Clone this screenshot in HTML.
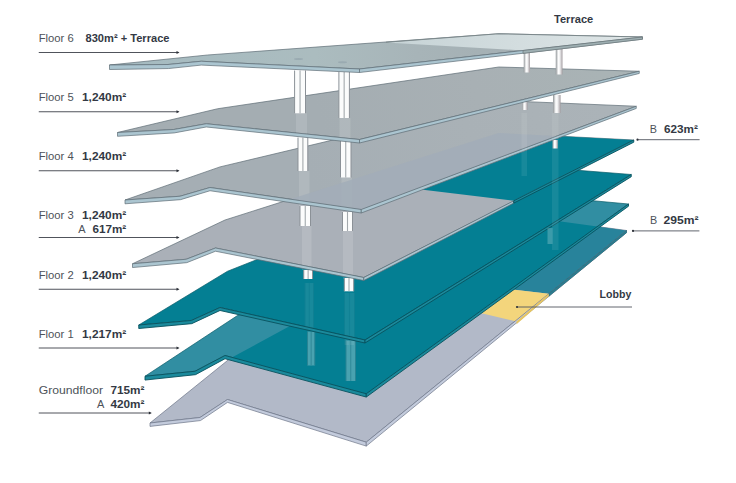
<!DOCTYPE html>
<html lang="en"><head><meta charset="utf-8"><title>Floor areas</title>
<style>html,body{margin:0;padding:0;background:#fff}body{width:736px;height:483px;overflow:hidden}svg{display:block}</style></head>
<body>
<svg width="736" height="483" viewBox="0 0 736 483">
<defs>
<linearGradient id="gTer" x1="0" y1="0" x2="1" y2="0"><stop offset="0" stop-color="#c6d3d6"/><stop offset="1" stop-color="#dfe6e7"/></linearGradient>
<linearGradient id="gPil" x1="0" y1="0" x2="1" y2="0"><stop offset="0" stop-color="#f4f6f7"/><stop offset=".42" stop-color="#ffffff"/><stop offset=".5" stop-color="#b9c2c7"/><stop offset=".6" stop-color="#ffffff"/><stop offset="1" stop-color="#e6eaec"/></linearGradient>
<linearGradient id="gPil2" x1="0" y1="0" x2="1" y2="0"><stop offset="0" stop-color="#8f9497"/><stop offset=".38" stop-color="#ffffff"/><stop offset=".6" stop-color="#f1f1f2"/><stop offset="1" stop-color="#a39da1"/></linearGradient>
<linearGradient id="gF5" gradientUnits="userSpaceOnUse" x1="330" y1="150" x2="600" y2="60"><stop offset="0" stop-color="#a4adb2"/><stop offset=".55" stop-color="#a8b0b4"/><stop offset="1" stop-color="#a9b3b5"/></linearGradient>
<linearGradient id="gF4" gradientUnits="userSpaceOnUse" x1="330" y1="220" x2="600" y2="95"><stop offset="0" stop-color="#a5aeb4"/><stop offset=".55" stop-color="#a9b1b6"/><stop offset="1" stop-color="#abb3b8"/></linearGradient>
<linearGradient id="gF6" gradientUnits="userSpaceOnUse" x1="110" y1="0" x2="520" y2="0"><stop offset="0" stop-color="#a5bbc1"/><stop offset=".5" stop-color="#abbcbf"/><stop offset=".75" stop-color="#a7b4b8"/><stop offset="1" stop-color="#a4afb3"/></linearGradient>
<clipPath id="c3"><polygon points="132.50,263.75 225.00,220.00 498.50,133.00 633.75,140.00 363.75,277.50 215.50,248.00 186.25,259.25"/></clipPath>
<clipPath id="cG"><polygon points="150.00,423.00 230.00,358.50 498.00,213.00 626.50,230.50 366.25,442.20 227.50,399.50 200.00,417.50"/></clipPath>
</defs>
<rect width="736" height="483" fill="#ffffff"/>
<polygon points="150.00,423.00 230.00,358.50 498.00,213.00 626.50,230.50 366.25,442.20 227.50,399.50 200.00,417.50" fill="#b2b9c8" stroke="#6d7688" stroke-width="0.7"/>
<polygon points="386.25,275.00 498.00,213.00 626.50,230.50 548.75,293.75" fill="#28839b"/>
<polygon points="503.25,288.50 548.75,293.75 516.50,321.50 471.00,310.70" fill="#f3d57c"/>
<polygon points="150.00,423.00 200.00,417.50 227.50,399.50 366.25,442.20 366.25,446.10 227.50,402.39 200.50,420.56 150.00,426.40" fill="#c3cbdc" stroke="#6d7688" stroke-width="0.7" stroke-linejoin="round"/>
<polygon points="366.25,442.20 626.50,230.50 626.50,232.70 366.25,446.10" fill="#c3cbdc" stroke="#6d7688" stroke-width="0.7" stroke-linejoin="round"/>
<polygon points="548.75,293.75 626.50,230.50 626.50,232.70 548.75,296.30" fill="#2a7f92" stroke="#1b5f6e" stroke-width="0.5"/>
<polygon points="516.50,321.50 548.75,293.75 548.75,296.30 516.50,324.30" fill="#e6c562"/>
<polygon points="145.00,376.25 237.50,315.50 498.00,192.00 628.50,204.00 366.25,393.75 225.00,355.50 195.00,371.25" fill="#318ea2" stroke="#0a5b69" stroke-width="0.7"/>
<polygon points="145.00,376.25 237.50,315.50 498.00,192.00 628.50,204.00 366.25,393.75 225.00,355.50 195.00,371.25" fill="#047f93" clip-path="url(#cG)"/>
<g opacity="0.28"><rect x="307.5" y="331.5" width="7.300000000000011" height="34.0" fill="#fbfcfc"/><path d="M307.5 331.5V365.5M314.8 331.5V365.5" stroke="#8b9197" stroke-width="1"/><path d="M311.15 331.5V365.5" stroke="#a3a9ad" stroke-width="1.1"/></g>
<g opacity="0.28"><rect x="346" y="340.5" width="9.5" height="40.5" fill="#fbfcfc"/><path d="M346 340.5V381M355.5 340.5V381" stroke="#8b9197" stroke-width="1"/><path d="M350.75 340.5V381" stroke="#a3a9ad" stroke-width="1.1"/></g>
<polygon points="145.00,376.25 195.00,371.25 225.00,355.50 366.25,393.75 366.25,397.05 225.00,358.73 195.50,374.67 145.00,380.05" fill="#1b8a9c" stroke="#08515e" stroke-width="0.9" stroke-linejoin="round"/>
<polygon points="366.25,393.75 628.50,204.00 628.50,206.20 366.25,397.05" fill="#1b8a9c" stroke="#08515e" stroke-width="0.9" stroke-linejoin="round"/>
<polygon points="138.75,325.00 227.50,271.25 498.00,164.00 631.25,174.50 365.00,340.00 220.00,307.50 191.25,320.50" fill="#047f93" stroke="#0a5b69" stroke-width="0.7"/>
<g opacity="0.08"><rect x="305" y="283" width="8.5" height="47" fill="#fbfcfc"/><path d="M305 283V330M313.5 283V330" stroke="#8b9197" stroke-width="1"/><path d="M309.25 283V330" stroke="#a3a9ad" stroke-width="1.1"/></g>
<g opacity="0.08"><rect x="344.5" y="293" width="10.0" height="52" fill="#fbfcfc"/><path d="M344.5 293V345M354.5 293V345" stroke="#8b9197" stroke-width="1"/><path d="M349.5 293V345" stroke="#a3a9ad" stroke-width="1.1"/></g>
<polygon points="138.75,325.00 191.25,320.50 220.00,307.50 365.00,340.00 365.00,343.00 220.00,310.48 191.75,323.65 138.75,328.50" fill="#1b8a9c" stroke="#08515e" stroke-width="0.9" stroke-linejoin="round"/>
<polygon points="365.00,340.00 631.25,174.50 631.25,176.70 365.00,343.00" fill="#1b8a9c" stroke="#08515e" stroke-width="0.9" stroke-linejoin="round"/>
<polygon points="132.50,263.75 225.00,220.00 498.50,133.00 633.75,140.00 363.75,277.50 215.50,248.00 186.25,259.25" fill="#aab0b8" stroke="#5f6d75" stroke-width="0.7"/>
<polygon points="421.00,189.50 498.50,133.00 633.75,140.00 513.75,200.80" fill="#047f93"/>
<rect x="302" y="226" width="9.5" height="44" fill="#ffffff" opacity="0.13"/>
<rect x="343" y="231" width="10" height="48" fill="#ffffff" opacity="0.13"/>
<g opacity="1"><rect x="303.75" y="270" width="8.75" height="9" fill="#fbfcfc"/><path d="M303.75 270V279M312.5 270V279" stroke="#8b9197" stroke-width="1"/><path d="M308.125 270V279" stroke="#a3a9ad" stroke-width="1.1"/></g>
<g opacity="1"><rect x="344.3" y="278" width="9.399999999999977" height="13.300000000000011" fill="#fbfcfc"/><path d="M344.3 278V291.3M353.7 278V291.3" stroke="#8b9197" stroke-width="1"/><path d="M349.0 278V291.3" stroke="#a3a9ad" stroke-width="1.1"/></g>
<polygon points="132.50,263.75 186.25,259.25 215.50,248.00 363.75,277.50 363.75,280.50 215.50,251.23 186.75,262.67 132.50,267.55" fill="#abc5d0" stroke="#5f6d75" stroke-width="0.7"/>
<polygon points="363.75,277.50 513.75,200.80 513.75,203.10 363.75,280.50" fill="#abc5d0" stroke="#5f6d75" stroke-width="0.7"/>
<polygon points="513.75,200.80 633.75,140.00 633.75,142.20 513.75,203.10" fill="#1b8a9c" stroke="#08515e" stroke-width="0.9"/>
<g opacity="1"><rect x="300" y="206" width="10.5" height="20" fill="#fbfcfc"/><path d="M300 206V226M310.5 206V226" stroke="#8b9197" stroke-width="1"/><path d="M305.25 206V226" stroke="#a3a9ad" stroke-width="1.1"/></g>
<g opacity="1"><rect x="342.5" y="212" width="10.0" height="19" fill="#fbfcfc"/><path d="M342.5 212V231M352.5 212V231" stroke="#8b9197" stroke-width="1"/><path d="M347.5 212V231" stroke="#a3a9ad" stroke-width="1.1"/></g>
<rect x="552.5" y="140" width="5.2999999999999545" height="8.5" fill="url(#gPil2)" opacity="1"/>
<polygon points="125.00,200.00 220.00,166.90 498.50,100.50 636.25,106.25 361.25,209.50 210.00,187.50 180.00,196.25" fill="url(#gF4)" stroke="#5f6d75" stroke-width="0.7"/>
<rect x="299" y="171" width="10.5" height="35" fill="#ffffff" opacity="0.13"/>
<rect x="341.5" y="177.5" width="10.5" height="34.5" fill="#ffffff" opacity="0.13"/>
<polygon points="125.00,200.00 220.00,166.90 498.50,100.50 636.25,106.25 361.25,209.50 210.00,187.50 180.00,196.25" fill="#a2adb9" clip-path="url(#c3)" opacity=".85"/>
<polygon points="125.00,200.00 180.00,196.25 210.00,187.50 361.25,209.50 361.25,213.00 210.00,190.73 180.50,199.67 125.00,203.80" fill="#abc5d0" stroke="#5f6d75" stroke-width="0.7" stroke-linejoin="round"/>
<polygon points="361.25,209.50 636.25,106.25 636.25,108.45 361.25,213.00" fill="#abc5d0" stroke="#5f6d75" stroke-width="0.7" stroke-linejoin="round"/>
<g opacity="1"><rect x="298" y="137.5" width="9.800000000000011" height="33.5" fill="#fbfcfc"/><path d="M298 137.5V171M307.8 137.5V171" stroke="#8b9197" stroke-width="1"/><path d="M302.9 137.5V171" stroke="#a3a9ad" stroke-width="1.1"/></g>
<g opacity="1"><rect x="340.5" y="141" width="10.5" height="36.5" fill="#fbfcfc"/><path d="M340.5 141V177.5M351 141V177.5" stroke="#8b9197" stroke-width="1"/><path d="M345.75 141V177.5" stroke="#a3a9ad" stroke-width="1.1"/></g>
<rect x="522" y="102" width="5.5" height="8" fill="url(#gPil2)" opacity="1"/>
<rect x="553" y="95" width="7.600000000000023" height="18" fill="url(#gPil2)" opacity="1"/>
<polygon points="117.50,132.50 217.50,108.75 498.75,67.00 639.25,71.25 359.50,139.50 206.25,123.75 173.75,129.50" fill="url(#gF5)" stroke="#5f6d75" stroke-width="0.7"/>
<rect x="296" y="113.3" width="11" height="24.200000000000003" fill="#ffffff" opacity="0.13"/>
<rect x="339.5" y="118" width="11.0" height="23" fill="#ffffff" opacity="0.13"/>
<polygon points="117.50,132.50 173.75,129.50 206.25,123.75 359.50,139.50 359.50,143.00 206.25,126.98 174.25,132.92 117.50,136.30" fill="#abc5d0" stroke="#5f6d75" stroke-width="0.7" stroke-linejoin="round"/>
<polygon points="359.50,139.50 639.25,71.25 639.25,73.45 359.50,143.00" fill="#abc5d0" stroke="#5f6d75" stroke-width="0.7" stroke-linejoin="round"/>
<g opacity="1"><rect x="294.6" y="70.5" width="10.899999999999977" height="42.8" fill="#fbfcfc"/><path d="M294.6 70.5V113.3M305.5 70.5V113.3" stroke="#8b9197" stroke-width="1"/><path d="M300.05 70.5V113.3" stroke="#a3a9ad" stroke-width="1.1"/></g>
<g opacity="1"><rect x="338.9" y="72" width="10.5" height="46" fill="#fbfcfc"/><path d="M338.9 72V118M349.4 72V118" stroke="#8b9197" stroke-width="1"/><path d="M344.15 72V118" stroke="#a3a9ad" stroke-width="1.1"/></g>
<rect x="523.75" y="52" width="6.25" height="20.5" fill="url(#gPil2)" opacity="1"/>
<rect x="555.75" y="48" width="6.75" height="26.5" fill="url(#gPil2)" opacity="1"/>
<polygon points="109.50,65.00 207.50,55.00 498.75,33.75 642.50,37.00 359.50,69.00 201.25,61.25 168.00,64.50" fill="url(#gF6)" stroke="#5f6d75" stroke-width="0.7"/>
<polygon points="386.00,42.50 498.75,33.75 642.50,37.00 523.00,50.50" fill="url(#gTer)"/>
<polygon points="109.50,65.00 168.00,64.50 201.25,61.25 359.50,69.00 359.50,72.50 201.25,65.08 168.50,68.55 109.50,69.50" fill="#abc5d0" stroke="#5f6d75" stroke-width="0.7" stroke-linejoin="round"/>
<polygon points="359.50,69.00 642.50,37.00 642.50,39.20 359.50,72.50" fill="#abc5d0" stroke="#5f6d75" stroke-width="0.7" stroke-linejoin="round"/>
<polygon points="523.00,50.50 642.50,37.00 642.50,39.20 523.00,53.40" fill="#9fb0b3" stroke="#6b777a" stroke-width="0.7"/>
<path d="M386 42.3L498.75 33.75L642.5 37" fill="none" stroke="#7c888b" stroke-width="1.1"/>
<ellipse cx="298.5" cy="59" rx="4.5" ry="1" fill="#8fa0a8" opacity=".6"/><ellipse cx="342.5" cy="62.2" rx="4.5" ry="1" fill="#8fa0a8" opacity=".6"/>
<rect x="521.5" y="113" width="5.5" height="63" fill="#ffffff" opacity="0.08"/>
<rect x="552" y="113" width="6.5" height="137" fill="#ffffff" opacity="0.08"/>
<rect x="547.5" y="228" width="5.0" height="16" fill="#ffffff" opacity="0.22"/>
<g font-family="'Liberation Sans', Arial, sans-serif">
<text x="38.75" y="42" font-size="11.8" fill="#4d5259" textLength="35.00" lengthAdjust="spacingAndGlyphs">Floor 6</text>
<text x="85.5" y="42" font-size="11.8" font-weight="700" fill="#333944" textLength="84.00" lengthAdjust="spacingAndGlyphs">830m² + Terrace</text>
<path d="M38.75 52.5H178.3" stroke="#3c4048" stroke-width="0.9"/><path d="M179.5 52.5l-3 -1.5v3z" fill="#2c3038"/>
<text x="38.75" y="100.5" font-size="11.8" fill="#4d5259" textLength="35.00" lengthAdjust="spacingAndGlyphs">Floor 5</text>
<text x="82" y="100.5" font-size="11.8" font-weight="700" fill="#333944" textLength="44.25" lengthAdjust="spacingAndGlyphs">1,240m²</text>
<path d="M38.75 111.75H178.3" stroke="#3c4048" stroke-width="0.9"/><path d="M179.5 111.75l-3 -1.5v3z" fill="#2c3038"/>
<text x="38.75" y="159.5" font-size="11.8" fill="#4d5259" textLength="35.00" lengthAdjust="spacingAndGlyphs">Floor 4</text>
<text x="82" y="159.5" font-size="11.8" font-weight="700" fill="#333944" textLength="44.25" lengthAdjust="spacingAndGlyphs">1,240m²</text>
<path d="M38.75 170.75H178.3" stroke="#3c4048" stroke-width="0.9"/><path d="M179.5 170.75l-3 -1.5v3z" fill="#2c3038"/>
<text x="38.75" y="219.25" font-size="11.8" fill="#4d5259" textLength="35.00" lengthAdjust="spacingAndGlyphs">Floor 3</text>
<text x="82" y="219.25" font-size="11.8" font-weight="700" fill="#333944" textLength="44.25" lengthAdjust="spacingAndGlyphs">1,240m²</text>
<text x="78.3" y="232.5" font-size="11" fill="#4d5259">A</text>
<text x="92.5" y="232.5" font-size="11.8" font-weight="700" fill="#333944" textLength="33.75" lengthAdjust="spacingAndGlyphs">617m²</text>
<path d="M38.75 237.5H178.3" stroke="#3c4048" stroke-width="0.9"/><path d="M179.5 237.5l-3 -1.5v3z" fill="#2c3038"/>
<text x="38.75" y="278.75" font-size="11.8" fill="#4d5259" textLength="35.00" lengthAdjust="spacingAndGlyphs">Floor 2</text>
<text x="82" y="278.75" font-size="11.8" font-weight="700" fill="#333944" textLength="44.25" lengthAdjust="spacingAndGlyphs">1,240m²</text>
<path d="M38.75 289.25H178.3" stroke="#3c4048" stroke-width="0.9"/><path d="M179.5 289.25l-3 -1.5v3z" fill="#2c3038"/>
<text x="38.75" y="338" font-size="11.8" fill="#4d5259" textLength="35.00" lengthAdjust="spacingAndGlyphs">Floor 1</text>
<text x="82" y="338" font-size="11.8" font-weight="700" fill="#333944" textLength="44.25" lengthAdjust="spacingAndGlyphs">1,217m²</text>
<path d="M38.75 348H178.3" stroke="#3c4048" stroke-width="0.9"/><path d="M179.5 348l-3 -1.5v3z" fill="#2c3038"/>
<text x="38.75" y="394.25" font-size="11.8" fill="#4d5259" textLength="64.25" lengthAdjust="spacingAndGlyphs">Groundfloor</text>
<text x="110.5" y="394.25" font-size="11.8" font-weight="700" fill="#333944" textLength="34.00" lengthAdjust="spacingAndGlyphs">715m²</text>
<text x="97" y="407.5" font-size="11" fill="#4d5259">A</text>
<text x="110.5" y="407.5" font-size="11.8" font-weight="700" fill="#333944" textLength="34.00" lengthAdjust="spacingAndGlyphs">420m²</text>
<path d="M38.75 413H150.6" stroke="#3c4048" stroke-width="0.9"/><path d="M151.79999999999998 413l-3 -1.5v3z" fill="#2c3038"/>
<text x="554" y="22.5" font-size="11.8" font-weight="700" fill="#333944" textLength="39.25" lengthAdjust="spacingAndGlyphs">Terrace</text>
<text x="649.8" y="132.6" font-size="10.8" fill="#4d5259">B</text>
<text x="663.9" y="132.6" font-size="11.8" font-weight="700" fill="#333944" textLength="33.90" lengthAdjust="spacingAndGlyphs">623m²</text>
<path d="M637.5 139.7H699.6" stroke="#50555d" stroke-width="0.9"/><circle cx="637.5" cy="139.7" r="1.1" fill="#2c3038"/>
<text x="649.9" y="223.6" font-size="10.8" fill="#4d5259">B</text>
<text x="663.6" y="223.6" font-size="11.8" font-weight="700" fill="#333944" textLength="35.00" lengthAdjust="spacingAndGlyphs">295m²</text>
<path d="M633 230.9H699.4" stroke="#50555d" stroke-width="0.9"/><circle cx="633" cy="230.9" r="1.1" fill="#2c3038"/>
<text x="599.6" y="297.6" font-size="11.8" font-weight="700" fill="#333944" textLength="31.70" lengthAdjust="spacingAndGlyphs">Lobby</text>
<path d="M517 307H632" stroke="#50555d" stroke-width="0.9"/><circle cx="517" cy="307" r="1.1" fill="#2c3038"/>
</g>
</svg>
</body></html>
